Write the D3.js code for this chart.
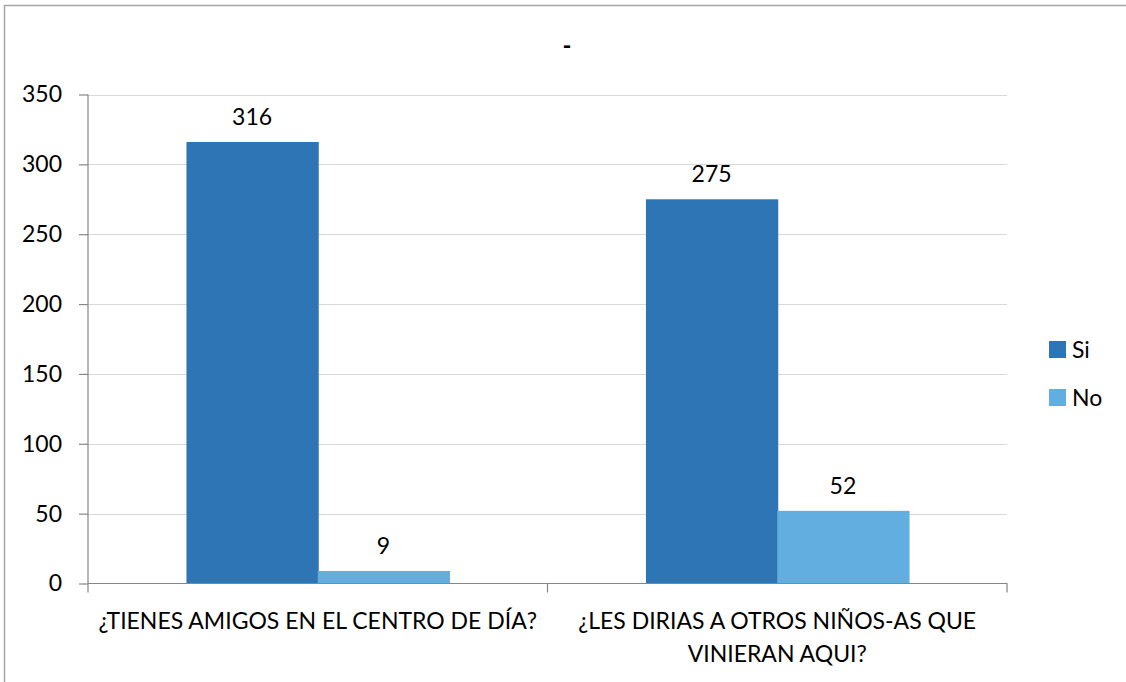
<!DOCTYPE html>
<html>
<head>
<meta charset="utf-8">
<script src="https://d3js.org/d3.v7.min.js"></script>
<style>
  body { margin: 0; background: #fff; }
  text { font-family: Lato, "Open Sans", sans-serif; fill: #000; }
</style>
</head>
<body>
<svg width="1126" height="682"></svg>
<script>
// data
const categories = ["¿TIENES AMIGOS EN EL CENTRO DE DÍA?", "¿LES DIRIAS A OTROS NIÑOS-AS QUE VINIERAN AQUI?"];
const series = ["Si", "No"];
const siValues = [316, 275];
const noValues = [9, 52];
const yTicks = [0, 50, 100, 150, 200, 250, 300, 350];
const colors = ["#2E75B6", "#62AEE0"];

const svg = d3.select("svg");

// outer frame (top + left visible)
svg.append("path")
  .attr("d", "M4.5,682 V5.5 H1126")
  .attr("fill", "none")
  .attr("stroke", "#a6a6a6")
  .attr("stroke-width", 1.5);

const pLeft = 88, pRight = 1007, pTop = 94.5, pBottom = 583.5;

const x = d3.scaleBand().domain(categories).range([pLeft, pRight]).paddingInner(0).paddingOuter(0);
const y = d3.scaleLinear().domain([0, 350]).range([pBottom, pTop]);
const inner = d3.scaleBand().domain(series).range([0, x.bandwidth()]).paddingOuter(0.75).paddingInner(0);

// gridlines
svg.append("g").selectAll("line").data(yTicks.filter(d => d > 0)).enter().append("line")
  .attr("x1", pLeft).attr("x2", pRight)
  .attr("y1", d => Math.round(y(d)) + 0.5).attr("y2", d => Math.round(y(d)) + 0.5)
  .attr("stroke", "#d9d9d9").attr("stroke-width", 1.2);

// bars
const rows = categories.map((c, i) => ({cat: c, vals: [siValues[i], noValues[i]]}));
const groups = svg.append("g").selectAll("g").data(rows).enter().append("g")
  .attr("transform", d => "translate(" + x(d.cat) + ",0)");

groups.selectAll("rect").data(d => d.vals.map((v, j) => ({s: series[j], v: v, j: j}))).enter().append("rect")
  .attr("x", d => inner(d.s))
  .attr("width", inner.bandwidth() + 1)
  .attr("y", d => y(d.v))
  .attr("height", d => pBottom - y(d.v))
  .attr("fill", d => colors[d.j]);

groups.selectAll("text.val").data(d => d.vals.map((v, j) => ({s: series[j], v: v}))).enter().append("text")
  .attr("class", "val")
  .attr("x", d => inner(d.s) + inner.bandwidth() / 2)
  .attr("y", d => y(d.v) - 17)
  .attr("text-anchor", "middle")
  .style("font-size", "23px")
  .text(d => d.v);

// y axis
const yAxis = svg.append("g").attr("transform", "translate(" + pLeft + ",0)")
  .call(d3.axisLeft(y).tickValues(yTicks).tickSize(9).tickPadding(17));
yAxis.select(".domain").attr("stroke", "#868686").attr("stroke-width", 1.2).attr("d", "M0," + pTop + "V" + (pBottom + 9));
yAxis.selectAll(".tick line").attr("stroke", "#868686").attr("stroke-width", 1.2);
yAxis.selectAll(".tick text").style("font-size", "23px").style("font-family", "Lato, sans-serif").attr("fill", "#000");

// x axis
const xAxis = svg.append("g").attr("transform", "translate(0," + pBottom + ")")
  .call(d3.axisBottom(x).tickSize(0).tickFormat(""));
xAxis.select(".domain").attr("stroke", "#868686").attr("stroke-width", 1.2).attr("d", "M" + pLeft + ",0H" + pRight + "V9");
xAxis.selectAll(".tick").remove();
xAxis.append("line").attr("x1", (pLeft + pRight) / 2).attr("x2", (pLeft + pRight) / 2)
  .attr("y1", 0).attr("y2", 9).attr("stroke", "#868686").attr("stroke-width", 1.2);

// category labels with wrapping
categories.forEach(c => {
  const cx = x(c) + x.bandwidth() / 2;
  const t = svg.append("text")
    .attr("x", cx)
    .attr("y", 629)
    .attr("text-anchor", "middle")
    .style("font-size", "23px");
  const words = c.split(" ");
  let line = [], tspan = t.append("tspan").attr("x", cx).attr("dy", 0);
  words.forEach(w => {
    line.push(w);
    tspan.text(line.join(" "));
    if (tspan.node().getComputedTextLength() > x.bandwidth() - 10 && line.length > 1) {
      line.pop();
      tspan.text(line.join(" "));
      line = [w];
      tspan = t.append("tspan").attr("x", cx).attr("dy", 33).text(w);
    }
  });
});

// title
svg.append("text").attr("x", 567).attr("y", 54).attr("text-anchor", "middle")
  .style("font-size", "24px").style("font-weight", "bold").text("-");

// legend
const lg = svg.append("g").selectAll("g").data(series).enter().append("g")
  .attr("transform", (d, i) => "translate(1049," + (341 + i * 48) + ")");
lg.append("rect").attr("width", 17).attr("height", 17).attr("fill", (d, i) => colors[i]);
lg.append("text").attr("x", 23).attr("y", 17).style("font-size", "23px").text(d => d);
</script>
</body>
</html>
